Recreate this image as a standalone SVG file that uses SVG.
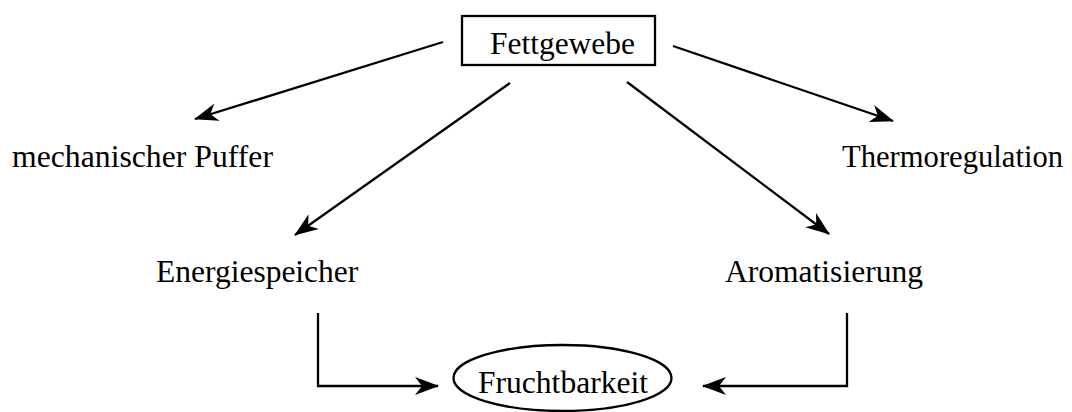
<svg xmlns="http://www.w3.org/2000/svg" width="1072" height="412" viewBox="0 0 1072 412">
<style>
.t{font-family:"Liberation Serif","Times New Roman",serif;font-size:31.5px;fill:#000}
.c{stroke:#000;stroke-width:2.3;fill:none;marker-end:url(#ah)}
.s{stroke:#000;stroke-width:2.3;fill:#fff}
</style>
<defs>
<marker id="ah" markerUnits="userSpaceOnUse" viewBox="0 0 24 18" markerWidth="24" markerHeight="18" refX="23" refY="9" orient="auto">
<path d="M0,0 L24,9 L0,18 L7,9 z" fill="#000"/>
</marker>
</defs>
<g id="connectors">
<line class="c" x1="443" y1="42" x2="195" y2="119"/>
<line class="c" x1="510" y1="83" x2="295" y2="235"/>
<line class="c" x1="627" y1="82" x2="829" y2="234"/>
<line class="c" x1="673" y1="46" x2="893" y2="121"/>
<polyline class="c" points="318,313 318,386 438,386"/>
<polyline class="c" points="847,313 847,386 703,386"/>
</g>
<g id="fettgewebe">
<rect class="s" x="462" y="16" width="193" height="49"/>
<text class="t" x="490" y="54" textLength="145" lengthAdjust="spacingAndGlyphs">Fettgewebe</text>
</g>
<g id="puffer"><text class="t" x="12" y="167" textLength="261" lengthAdjust="spacingAndGlyphs">mechanischer Puffer</text></g>
<g id="thermo"><text class="t" x="842" y="167" textLength="221" lengthAdjust="spacingAndGlyphs">Thermoregulation</text></g>
<g id="energie"><text class="t" x="156" y="282">Energiespeicher</text></g>
<g id="aroma"><text class="t" x="725" y="282" textLength="198" lengthAdjust="spacingAndGlyphs">Aromatisierung</text></g>
<g id="frucht">
<ellipse class="s" cx="562.5" cy="378" rx="109" ry="33"/>
<text class="t" x="478" y="393" textLength="170" lengthAdjust="spacingAndGlyphs">Fruchtbarkeit</text>
</g>
</svg>
